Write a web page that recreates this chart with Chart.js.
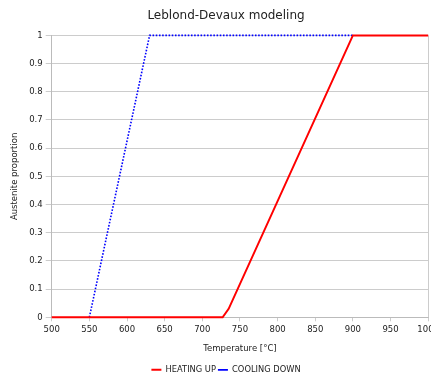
<!DOCTYPE html>
<html>
<head>
<meta charset="utf-8">
<script src="https://cdn.jsdelivr.net/npm/chart.js@4/dist/chart.umd.min.js"></script>
<style>
  html, body { margin: 0; padding: 0; background: #fff; overflow: hidden; }
  #wrap { width: 442px; height: 379px; }
</style>
</head>
<body>
<div id="wrap"><canvas id="c" width="442" height="379"></canvas></div>
<script>
// Austenite fraction vs. temperature (Leblond-Devaux model)
const heatTemp = [500, 727, 735, 900, 1000];
const heatFrac = [0, 0, 0.03, 1, 1];
const coolTemp = [550, 630, 900];
const coolFrac = [0, 1, 1];
const xTicks = [500, 550, 600, 650, 700, 750, 800, 850, 900, 950, 1000];
const yTicks = [0, 0.1, 0.2, 0.3, 0.4, 0.5, 0.6, 0.7, 0.8, 0.9, 1];

const toPoints = (xs, ys) => xs.map((x, i) => ({ x: x, y: ys[i] }));
const FONT = "'DejaVu Sans', sans-serif";

new Chart(document.getElementById('c'), {
  type: 'line',
  data: {
    datasets: [
      {
        label: 'HEATING UP',
        data: toPoints(heatTemp, heatFrac),
        borderColor: '#ff0000',
        backgroundColor: '#ff0000',
        borderWidth: 2,
        pointRadius: 0,
        tension: 0,
        clip: false,
        order: 1
      },
      {
        label: 'COOLING DOWN',
        data: toPoints(coolTemp, coolFrac),
        borderColor: '#0000ff',
        backgroundColor: '#0000ff',
        borderWidth: 1.6,
        borderDash: [1.6, 1.6],
        pointRadius: 0,
        tension: 0,
        clip: false,
        order: 2
      }
    ]
  },
  options: {
    responsive: false,
    animation: false,
    layout: { padding: { left: 10, right: 0, top: 9, bottom: -5 } },
    plugins: {
      title: {
        display: true,
        text: 'Leblond-Devaux modeling',
        color: '#222',
        font: { family: FONT, size: 12, weight: 'normal' },
        padding: { top: 0, bottom: 12 }
      },
      legend: {
        position: 'bottom',
        labels: {
          usePointStyle: true,
          pointStyle: 'line',
          pointStyleWidth: 10,
          boxWidth: 10,
          boxHeight: 6,
          padding: 2,
          color: '#222',
          font: { family: FONT, size: 8.3 }
        }
      },
      tooltip: { enabled: false }
    },
    scales: {
      x: {
        type: 'linear',
        min: 500,
        max: 1000,
        afterBuildTicks: s => { s.ticks = xTicks.map(v => ({ value: v })); },
        ticks: {
          color: '#222',
          font: { family: FONT, size: 8.5 },
          maxRotation: 0,
          padding: 3,
          callback: v => String(v)
        },
        grid: { color: '#cccccc', tickLength: 4, drawOnChartArea: false },
        border: { color: '#bbbbbb' },
        title: {
          display: true,
          text: 'Temperature [°C]',
          color: '#222',
          font: { family: FONT, size: 8.5 },
          padding: { top: 6, bottom: 10 }
        }
      },
      y: {
        min: 0,
        max: 1,
        afterBuildTicks: s => { s.ticks = yTicks.map(v => ({ value: v })); },
        ticks: {
          color: '#222',
          font: { family: FONT, size: 8.5 },
          padding: 3,
          callback: v => String(Math.round(v * 10) / 10)
        },
        grid: { color: '#cccccc', tickLength: 6, lineWidth: 1 },
        border: { color: '#bbbbbb' },
        title: {
          display: true,
          text: 'Austenite proportion',
          color: '#222',
          font: { family: FONT, size: 8.5 },
          padding: { top: 0, bottom: 6 }
        }
      }
    }
  },
  plugins: [{
    // closing grid line on the right edge of the plot
    id: 'vgrid',
    beforeDatasetsDraw(chart) {
      const { ctx, chartArea: a, scales: { x } } = chart;
      ctx.save();
      ctx.strokeStyle = '#cccccc';
      ctx.lineWidth = 1;
      const v = xTicks[xTicks.length - 1];
      const px = Math.round(x.getPixelForValue(v)) + 0.5;
      ctx.beginPath();
      ctx.moveTo(px, a.top);
      ctx.lineTo(px, a.bottom);
      ctx.stroke();
      ctx.restore();
    }
  }]
});
</script>
</body>
</html>
